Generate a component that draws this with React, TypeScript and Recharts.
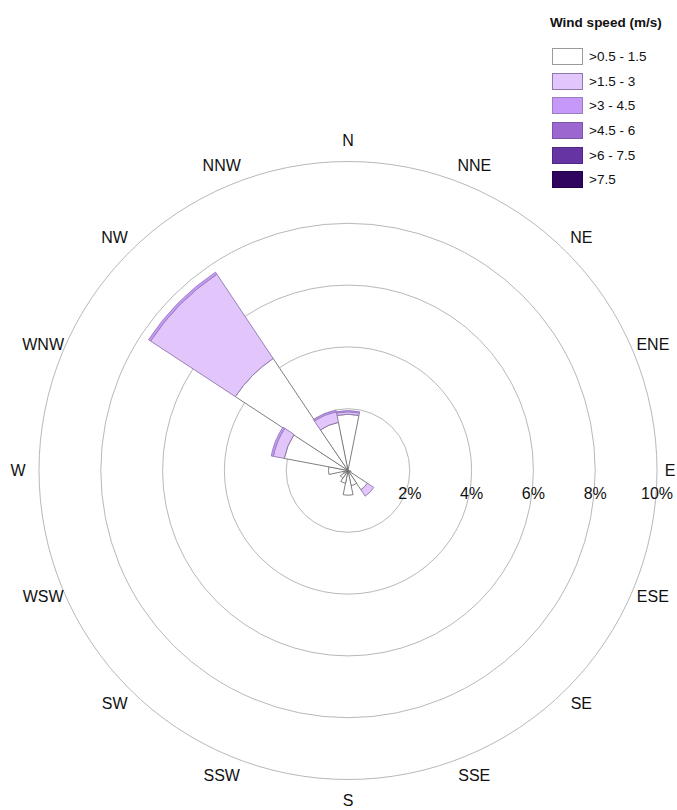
import {
  RadialBarChart,
  RadialBar,
  PolarGrid,
  PolarAngleAxis,
  PolarRadiusAxis,
  Legend,
  Cell,
} from 'recharts';

const directions = ['N', 'NNE', 'NE', 'ENE', 'E', 'ESE', 'SE', 'SSE', 'S', 'SSW', 'SW', 'WSW', 'W', 'WNW', 'NW', 'NNW'];

// frequency (%) of each speed class per direction
const speed05to15 = [1.82, 0, 0, 0, 0, 0.1, 0.75, 0.5, 0.8, 0.42, 0.3, 0.15, 0.63, 2.1, 4.36, 1.59];
const speed15to3 = [0.08, 0, 0, 0, 0, 0, 0.25, 0, 0, 0, 0, 0, 0, 0.36, 3.28, 0.35];
const speed3to45 = [0.04, 0, 0, 0, 0, 0, 0, 0, 0, 0, 0, 0, 0, 0.07, 0.08, 0.05];
const speed45to6 = [0, 0, 0, 0, 0, 0, 0, 0, 0, 0, 0, 0, 0, 0, 0, 0];
const speed6to75 = [0, 0, 0, 0, 0, 0, 0, 0, 0, 0, 0, 0, 0, 0, 0, 0];
const speedAbove75 = [0, 0, 0, 0, 0, 0, 0, 0, 0, 0, 0, 0, 0, 0, 0, 0];

const speedClasses = ['>0.5 - 1.5', '>1.5 - 3', '>3 - 4.5', '>4.5 - 6', '>6 - 7.5', '>7.5'];
const classFills = ['#ffffff', '#e2c5fb', '#c699f8', '#9c68d0', '#6634a3', '#2f055f'];
const classStrokes = ['#707070', '#8f78ad', '#9a7cc0', '#7a55a8', '#4e2885', '#22034a'];
const radiusTicks = [0, 2, 4, 6, 8, 10];

const seriesKeys = ['s1', 's2', 's3', 's4', 's5', 's6'];
const seriesValues = [speed05to15, speed15to3, speed3to45, speed45to6, speed6to75, speedAbove75];

const data = directions.map((dir, i) => {
  const row: Record<string, string | number> = { dir };
  seriesKeys.forEach((k, j) => {
    row[k] = seriesValues[j][i];
  });
  return row;
});

const FONT = "'Liberation Sans', Arial, sans-serif";
const WIDTH = 677;
const HEIGHT = 810;
const CX = 348;
const CY = 470.5;
const LABEL_R = 330;
// sectors run from the tick coordinate over one band, so labels sit half a band further on
const HALF_BAND = 360 / directions.length / 2;

function DirectionTick(props: any) {
  const { payload } = props;
  const rad = (-(payload.coordinate + HALF_BAND) * Math.PI) / 180;
  // keep the east label inside the right edge
  const x = Math.min(CX + LABEL_R * Math.cos(rad), WIDTH - 7);
  const y = CY + LABEL_R * Math.sin(rad);
  return (
    <text x={x} y={y} textAnchor="middle" dominantBaseline="central" fontSize={16} fontFamily={FONT} fill="#111">
      {payload.value}
    </text>
  );
}

function PercentTick(props: any) {
  const { x, y, payload } = props;
  if (payload.value === 0) return <g />;
  return (
    <text x={x} y={y + 23} textAnchor="middle" dominantBaseline="central" fontSize={16} fontFamily={FONT} fill="#111">
      {payload.value}%
    </text>
  );
}

function SpeedLegend() {
  return (
    <div style={{ fontFamily: FONT, color: '#111' }}>
      <div style={{ fontWeight: 'bold', fontSize: 13.5, marginLeft: 10, marginBottom: 14, marginTop: 15 }}>
        Wind speed (m/s)
      </div>
      {speedClasses.map((label, i) => (
        <div key={label} style={{ display: 'flex', alignItems: 'center', height: 24.7, marginLeft: 12 }}>
          <div
            style={{
              width: 31,
              height: 17,
              boxSizing: 'border-box',
              background: classFills[i],
              border: `1px solid ${i === 0 ? '#9a9a9a' : classStrokes[i]}`,
            }}
          />
          <span style={{ fontSize: 13.5, marginLeft: 6 }}>{label}</span>
        </div>
      ))}
    </div>
  );
}

export default function App() {
  return (
    <div style={{ position: 'absolute', left: 0, top: 0, width: WIDTH, height: HEIGHT, background: '#fff' }}>
      <RadialBarChart
        width={WIDTH}
        height={HEIGHT}
        data={data}
        layout="centric"
        cx={CX}
        cy={CY}
        innerRadius={0}
        outerRadius={309}
        startAngle={90 - HALF_BAND}
        endAngle={-270 - HALF_BAND}
        barCategoryGap={0}
        barGap={0}
        margin={{ top: 0, right: 0, bottom: 0, left: 0 }}
      >
        <PolarGrid gridType="circle" radialLines={false} stroke="#b8b8b8" />
        <PolarAngleAxis dataKey="dir" type="category" axisLine={false} tickLine={false} tick={DirectionTick} />
        <PolarRadiusAxis
          type="number"
          domain={[0, 10]}
          ticks={radiusTicks}
          angle={0}
          axisLine={false}
          tickLine={false}
          tick={PercentTick}
        />
        {seriesKeys.map((k, j) => (
          <RadialBar
            key={k}
            dataKey={k}
            name={speedClasses[j]}
            stackId="wind"
            fill={classFills[j]}
            stroke={classStrokes[j]}
            strokeWidth={0.9}
            isAnimationActive={false}
          >
            {seriesValues[j].map((v, i) => (
              <Cell key={i} stroke={v > 0 ? classStrokes[j] : 'none'} fill={v > 0 ? classFills[j] : 'none'} />
            ))}
          </RadialBar>
        ))}
        <Legend content={<SpeedLegend />} wrapperStyle={{ top: 0, left: 540, width: 137 }} />
      </RadialBarChart>
    </div>
  );
}
